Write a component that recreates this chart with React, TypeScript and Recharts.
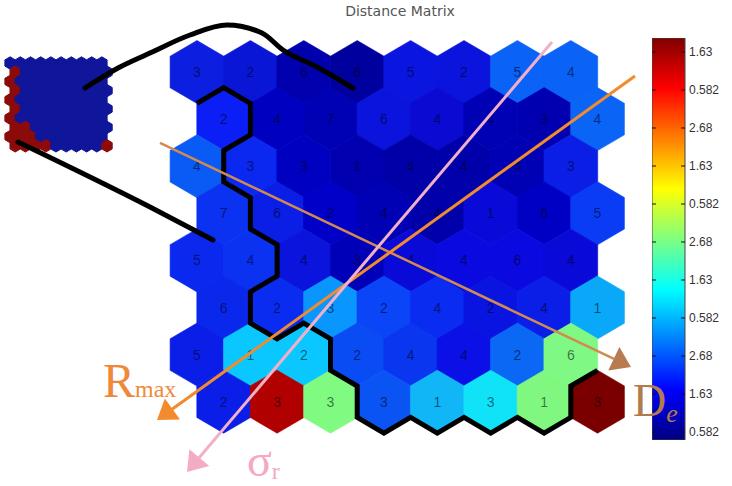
import React from 'react';
import { ComposedChart, Scatter, XAxis, YAxis, BarChart, Bar } from 'recharts';

// ---------- SOM distance-matrix cells (row by row, odd rows shifted by half a cell) ----------
const mapLabels: number[][] = [
  [3, 2, 6, 6, 5, 2, 5, 4],
  [2, 4, 7, 6, 4, 4, 3, 4],
  [4, 3, 3, 1, 4, 4, 4, 3],
  [7, 6, 2, 4, 4, 1, 6, 5],
  [5, 4, 4, 3, 4, 4, 6, 4],
  [6, 2, 3, 2, 4, 2, 4, 1],
  [5, 1, 2, 2, 4, 4, 2, 6],
  [2, 3, 3, 3, 1, 3, 1, 3],
];
const mapColors: string[][] = [
  ['#0c1ee0', '#0a16d6', '#0000ae', '#00009e', '#0a16e0', '#0a14dc', '#0a62f6', '#0a62f6'],
  ['#0a1ef5', '#0000c0', '#0000b4', '#0a14dc', '#0a0ad2', '#0000b4', '#0000b0', '#0a64f5'],
  ['#0a5af5', '#0a28f0', '#0000c0', '#0000b0', '#0000a8', '#0000aa', '#0000b4', '#0a1ee6'],
  ['#0a32f0', '#0a1ee6', '#0000c8', '#0000b4', '#0000aa', '#0a0ad8', '#0000c4', '#0a3cf5'],
  ['#0a28ee', '#0a32f0', '#0a14dc', '#0000b8', '#0a0ad8', '#0a0ae0', '#0a0ae0', '#0a0ad8'],
  ['#0a28ec', '#0a2cf0', '#0a96ff', '#0a46f8', '#0a2cf0', '#0a14e0', '#0a1ee8', '#0aa8f8'],
  ['#0a1ee8', '#0ac8ff', '#0ac8ff', '#0a4cf4', '#0a36f0', '#0a10e6', '#0a68f4', '#80f884'],
  ['#0a1ee8', '#b00000', '#80fa80', '#0a54f4', '#10b6f6', '#10e2f8', '#80f880', '#7a0000'],
];

// ---------- small inset map (0 = blue, 1 = dark red) ----------
const insetRows: string[] = [
  '0000000000',
  '1000000000',
  '1000000000',
  '1000000000',
  '1000000000',
  '1000000000',
  '1000000000',
  '1100000000',
  '1110000000',
  '1111000001',
];
const insetPalette = ['#10169a', '#8c0a0a'];

// ---------- colour bar ----------
const cbTickValues = [0, 1, 2, 3, 4, 5, 6, 7, 8, 9, 10];
const cbTickLabels = ['0.582', '1.63', '2.68', '0.582', '1.63', '2.68', '0.582', '1.63', '2.68', '0.582', '1.63'];
const cbSpan = [-0.2105, 10.368];
const jetStops = [
  { offset: 0, color: '#800000' },
  { offset: 0.125, color: '#ff0000' },
  { offset: 0.375, color: '#ffff00' },
  { offset: 0.625, color: '#00ffff' },
  { offset: 0.875, color: '#0000ff' },
  { offset: 1, color: '#000080' },
];

// ---------- annotations, in map grid units (x = column, y = row) ----------
const clusterBorder = [
  [0, 0.667], [0.5, 0.333], [1, 0.667], [1, 1.333], [0.5, 1.667], [0.5, 2.333], [1, 2.667],
  [1, 3.333], [1.5, 3.667], [1.5, 4.333], [1, 4.667], [1, 5.333], [1.5, 5.667], [2, 5.333],
  [2.5, 5.667], [2.5, 6.333], [3, 6.667], [3, 7.333], [3.5, 7.667], [4, 7.333], [4.5, 7.667],
  [5, 7.333], [5.5, 7.667], [6, 7.333], [6.5, 7.667], [7, 7.333], [7, 6.667], [7.5, 6.333],
];
const linkTop = [
  [-2.097, 0.34], [-1.479, -0.085], [-0.88, -0.403], [-0.131, -0.786], [0.562, -0.998],
  [1.217, -0.828], [1.61, -0.467], [2.247, -0.106], [2.921, 0.34],
];
const linkBottom = [[-3.352, 1.486], [-0.88, 2.866], [0.3, 3.567]];
const deLine = [[-0.693, 1.507], [7.809, 6.093]];
const rmaxLine = [[8.202, 0.085], [-0.487, 7.176]];
const sigmaLine = [[6.648, -0.637], [0.019, 8.217]];
const arrowHeads = [
  { x: 8.127, y: 6.263, angle: 25.4, color: '#b87a50' },
  { x: -0.749, y: 7.389, angle: 144.3, color: '#f28a2e' },
  { x: -0.187, y: 8.493, angle: 130.4, color: '#f4acc6' },
];
const annotationTexts = [
  { x: -1.76, y: 6.9, main: 'R', sub: 'max', color: '#f0883a', italicSub: false, subDy: 0, mainSize: 48, subSize: 24 },
  { x: 0.936, y: 8.577, main: 'σ', sub: 'r', color: '#f4a8c4', italicSub: false, subDy: 3, mainSize: 46, subSize: 24 },
  { x: 8.165, y: 7.304, main: 'D', sub: 'e', color: '#b37a4c', italicSub: true, subDy: 6, mainSize: 46, subSize: 26 },
];

const toPts = (arr: number[][]) => arr.map(([x, y]) => ({ x, y }));

const cells = mapLabels.flatMap((row, r) =>
  row.map((label, c) => ({ x: c + (r % 2 ? 0.5 : 0), y: r, label, color: mapColors[r][c] }))
);
const insetCells = insetRows.flatMap((row, r) =>
  row.split('').map((v, c) => ({ x: c + (r % 2 ? 0.5 : 0), y: r, color: insetPalette[Number(v)] }))
);

const hexPoints = (cx: number, cy: number, w: number, r: number) =>
  [[0, -r], [w, -r / 2], [w, r / 2], [0, r], [-w, r / 2], [-w, -r / 2]]
    .map(([dx, dy]) => `${cx + dx},${cy + dy}`)
    .join(' ');

const HexCell = (props: any) => {
  const { cx, cy, payload } = props;
  return (
    <g>
      <polygon points={hexPoints(cx, cy, 26.9, 31.5)} fill={payload.color} stroke={payload.color} strokeWidth={0.6} />
      <text
        x={cx}
        y={cy + 5}
        textAnchor="middle"
        fontSize={14}
        fontFamily="'Liberation Sans', Arial, sans-serif"
        fill="#000010"
        fillOpacity={0.55}
      >
        {payload.label}
      </text>
    </g>
  );
};

const InsetHex = (props: any) => {
  const { cx, cy, payload } = props;
  return <polygon points={hexPoints(cx, cy, 5.2, 6.2)} fill={payload.color} stroke={payload.color} strokeWidth={1} />;
};

const Nothing = () => <g />;

const ArrowHead = (props: any) => {
  const { cx, cy, payload } = props;
  const L = 19;
  const H = 13;
  return (
    <polygon
      points={`0,0 ${-L},${-H} ${-L},${H}`}
      transform={`translate(${cx},${cy}) rotate(${payload.angle})`}
      fill={payload.color}
    />
  );
};

const AnnotText = (props: any) => {
  const { cx, cy, payload } = props;
  return (
    <text x={cx} y={cy} fontFamily="'Liberation Serif', 'Times New Roman', serif" fill={payload.color} fontSize={payload.mainSize}>
      {payload.main}
      <tspan fontSize={payload.subSize} dy={payload.subDy} fontStyle={payload.italicSub ? 'italic' : 'normal'}>
        {payload.sub}
      </tspan>
    </text>
  );
};

const CbTick = (props: any) => {
  const { x, y, payload } = props;
  const idx = cbTickValues.indexOf(payload.value);
  const right = x - 4;
  const left = right - 33;
  return (
    <g>
      <line x1={left} x2={left + 4} y1={y} y2={y} stroke="#111" strokeWidth={1} />
      <line x1={right - 4} x2={right} y1={y} y2={y} stroke="#111" strokeWidth={1} />
      <text x={x} y={y + 4} fontSize={12} fontFamily="'Liberation Sans', Arial, sans-serif" fill="#333" textAnchor="start">
        {cbTickLabels[idx]}
      </text>
    </g>
  );
};

export default function App() {
  return (
    <div style={{ position: 'absolute', left: 0, top: 0, width: 732, height: 486, background: '#fff', overflow: 'hidden' }}>
      <div
        style={{
          position: 'absolute',
          left: 300,
          top: 3,
          width: 200,
          textAlign: 'center',
          fontFamily: "'DejaVu Sans', sans-serif",
          fontSize: 14,
          color: '#555',
        }}
      >
        Distance Matrix
      </div>
      <div style={{ position: 'absolute', left: 652, top: 38 }}>
        <BarChart
          width={80}
          height={402}
          data={[{ name: 'cb', span: cbSpan }]}
          margin={{ top: 0, right: 0, bottom: 0, left: 0 }}
          barCategoryGap={0}
          barGap={0}
        >
          <defs>
            <linearGradient id="jet" x1="0" y1="0" x2="0" y2="1">
              {jetStops.map((s) => (
                <stop key={s.offset} offset={s.offset} stopColor={s.color} />
              ))}
            </linearGradient>
          </defs>
          <XAxis dataKey="name" hide />
          <YAxis
            orientation="right"
            type="number"
            width={47}
            domain={cbSpan}
            ticks={cbTickValues}
            interval={0}
            tickSize={0}
            tickMargin={4}
            axisLine={false}
            tickLine={false}
            tick={<CbTick />}
            allowDataOverflow
          />
          <Bar dataKey="span" fill="url(#jet)" stroke="#444" strokeWidth={1} isAnimationActive={false} />
        </BarChart>
      </div>
      <div style={{ position: 'absolute', left: 0, top: 0 }}>
        <ComposedChart width={732} height={486} margin={{ top: 0, right: 0, bottom: 0, left: 0 }}>
          <XAxis xAxisId="g" type="number" dataKey="x" domain={[-3.6891, 10.0187]} hide allowDataOverflow />
          <YAxis yAxisId="g" type="number" dataKey="y" domain={[-1.5287, 8.7898]} reversed hide allowDataOverflow />
          <XAxis xAxisId="i" type="number" dataKey="x" domain={[-0.9902, 70.775]} hide allowDataOverflow />
          <YAxis yAxisId="i" type="number" dataKey="y" domain={[-6.848, 45.978]} reversed hide allowDataOverflow />
          <Scatter data={cells} xAxisId="g" yAxisId="g" shape={HexCell} isAnimationActive={false} />
          <Scatter data={insetCells} xAxisId="i" yAxisId="i" shape={InsetHex} isAnimationActive={false} />
          <Scatter
            data={toPts(clusterBorder)}
            xAxisId="g"
            yAxisId="g"
            shape={Nothing}
            line={{ stroke: '#000', strokeWidth: 5, strokeLinejoin: 'miter' }}
            lineType="joint"
            isAnimationActive={false}
          />
          <Scatter
            data={toPts(linkTop)}
            xAxisId="g"
            yAxisId="g"
            shape={Nothing}
            line={{ stroke: '#000', strokeWidth: 5, strokeLinecap: 'round' }}
            lineType="joint"
            lineJointType="monotone"
            isAnimationActive={false}
          />
          <Scatter
            data={toPts(linkBottom)}
            xAxisId="g"
            yAxisId="g"
            shape={Nothing}
            line={{ stroke: '#000', strokeWidth: 5, strokeLinecap: 'round' }}
            lineType="joint"
            lineJointType="monotone"
            isAnimationActive={false}
          />
          <Scatter
            data={toPts(deLine)}
            xAxisId="g"
            yAxisId="g"
            shape={Nothing}
            line={{ stroke: '#d08a52', strokeWidth: 2.5 }}
            lineType="joint"
            isAnimationActive={false}
          />
          <Scatter
            data={toPts(rmaxLine)}
            xAxisId="g"
            yAxisId="g"
            shape={Nothing}
            line={{ stroke: '#f28a2e', strokeWidth: 3 }}
            lineType="joint"
            isAnimationActive={false}
          />
          <Scatter
            data={toPts(sigmaLine)}
            xAxisId="g"
            yAxisId="g"
            shape={Nothing}
            line={{ stroke: '#f2b0c8', strokeWidth: 3 }}
            lineType="joint"
            isAnimationActive={false}
          />
          <Scatter data={arrowHeads} xAxisId="g" yAxisId="g" shape={ArrowHead} isAnimationActive={false} />
          <Scatter data={annotationTexts} xAxisId="g" yAxisId="g" shape={AnnotText} isAnimationActive={false} />
        </ComposedChart>
      </div>
    </div>
  );
}
